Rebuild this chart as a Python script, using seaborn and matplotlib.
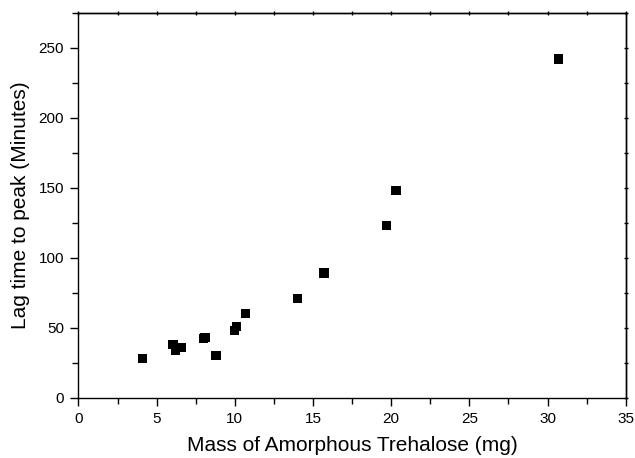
import matplotlib
matplotlib.use("Agg")
import matplotlib.pyplot as plt
import seaborn as sns
import pandas as pd
from matplotlib.ticker import MultipleLocator

mass_mg = [4.1, 6.05, 6.2, 6.6, 8.0, 8.1, 8.8, 10.0, 10.1, 10.7, 14.0, 15.7, 19.7, 20.3, 30.7]
lag_min = [28, 38, 34, 36, 42, 43, 30, 48, 51, 60, 71, 89, 123, 148, 242]

x_label = "Mass of Amorphous Trehalose (mg)"
y_label = "Lag time to peak (Minutes)"

sns.set_style("white")
plt.rcParams['font.family'] = ['Liberation Sans', 'DejaVu Sans']
plt.rcParams['text.color'] = 'black'
plt.rcParams['axes.labelcolor'] = 'black'
plt.rcParams['xtick.color'] = 'black'
plt.rcParams['ytick.color'] = 'black'

df = pd.DataFrame({"mass": mass_mg, "lag": lag_min})

fig = plt.figure(figsize=(6.35, 4.58), dpi=100)
ax = fig.add_axes([0.1236, 0.132, 0.8618, 0.840])

sns.scatterplot(data=df, x="mass", y="lag", marker="s", s=45, color="black",
                edgecolor="none", linewidth=0, ax=ax)

ax.set_xlim(0, 35)
ax.set_ylim(0, 275)
ax.xaxis.set_major_locator(MultipleLocator(5))
ax.xaxis.set_minor_locator(MultipleLocator(2.5))
ax.yaxis.set_major_locator(MultipleLocator(50))
ax.yaxis.set_minor_locator(MultipleLocator(25))

for sp in ax.spines.values():
    sp.set_visible(True)
    sp.set_color("black")
    sp.set_linewidth(1.0)

ax.tick_params(which="major", direction="out", length=6, width=1.0, color="black",
               labelcolor="black", labelsize=11, bottom=True, left=True,
               top=False, right=False, pad=4.5)
ax.tick_params(which="minor", direction="out", length=4, width=1.0, color="black",
               bottom=True, left=True, top=False, right=False)

# small ticks on top and right axes
axt = ax.secondary_xaxis("top")
axt.xaxis.set_major_locator(MultipleLocator(5))
axt.xaxis.set_minor_locator(MultipleLocator(2.5))
axt.tick_params(which="both", direction="inout", length=2.5, width=1.0,
                color="black", labeltop=False)
axt.spines["top"].set_linewidth(1.0)
axt.spines["top"].set_color("black")
axr = ax.secondary_yaxis("right")
axr.yaxis.set_major_locator(MultipleLocator(50))
axr.yaxis.set_minor_locator(MultipleLocator(25))
axr.tick_params(which="both", direction="inout", length=2.5, width=1.0,
                color="black", labelright=False)
axr.spines["right"].set_linewidth(1.0)
axr.spines["right"].set_color("black")

ax.set_xlabel(x_label, fontsize=15, color="black")
ax.set_ylabel(y_label, fontsize=15, color="black")
ax.xaxis.set_label_coords(0.5, -0.100)
ax.yaxis.set_label_coords(-0.088, 0.5)

fig.savefig("out.png", dpi=100)
